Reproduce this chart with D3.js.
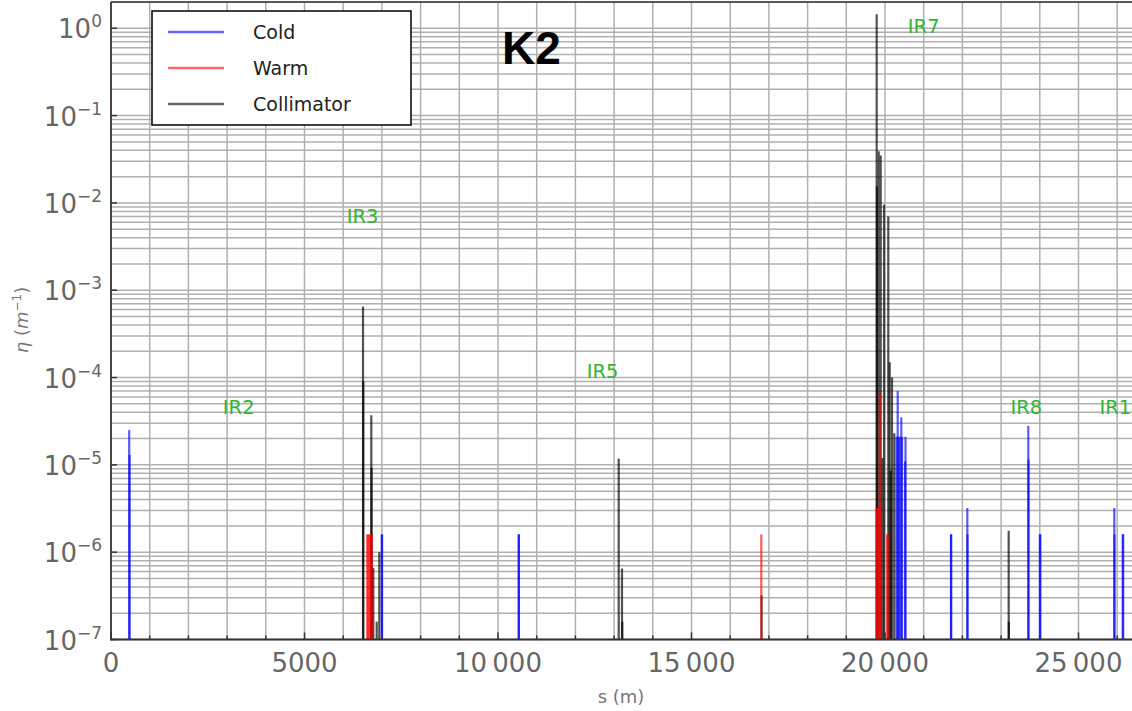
<!DOCTYPE html>
<html>
<head>
<meta charset="utf-8">
<script src="https://cdn.jsdelivr.net/npm/d3@7"></script>
<style>
  html, body { margin: 0; padding: 0; background: #fff; overflow: hidden; }
  svg { display: block; }
</style>
</head>
<body>
<svg id="chart" width="1132" height="711"></svg>
<script>
// Loss maps: longitudinal position s (m) and local inefficiency eta (1/m)
const coldLosses = [
  [470, 2.5e-5], [480, 1.3e-5],
  [6995, 1.6e-6], [7005, 1.6e-6],
  [10535, 1.6e-6], [10540, 1.6e-6],
  [20300, 2.1e-5], [20328, 7.0e-5], [20350, 2.1e-5], [20380, 2.1e-5],
  [20421, 3.5e-5], [20440, 2.1e-5], [20520, 1.1e-5], [20530, 2.1e-5],
  [21705, 1.6e-6], [21710, 1.6e-6],
  [22127, 3.2e-6], [22132, 1.6e-6],
  [23703, 2.8e-5], [23708, 1.15e-5],
  [24000, 1.6e-6], [24015, 1.6e-6],
  [25925, 3.2e-6], [25930, 1.6e-6],
  [26142, 1.6e-6], [26155, 1.6e-6]
];
const warmLosses = [
  [6620, 1.6e-6], [6650, 1.6e-6], [6680, 1.6e-6], [6710, 1.6e-6], [6740, 1.6e-6],
  [16804, 1.6e-6],
  [19780, 3.2e-6], [19800, 3.2e-6], [19820, 3.2e-6], [19865, 6.6e-5], [19880, 3.2e-6],
  [20060, 1.6e-6], [20070, 1.6e-6]
];
const collimatorLosses = [
  [6512, 6.5e-4], [6520, 9.0e-5], [6726, 3.7e-5], [6733, 9.3e-6],
  [6778, 6.6e-7], [6866, 1.6e-7], [6933, 1.0e-6],
  [13119, 1.18e-5], [13204, 6.5e-7], [13212, 1.6e-7],
  [16810, 3.2e-7],
  [19785, 1.45], [19792, 1.55e-2], [19837, 3.9e-2], [19889, 3.5e-2],
  [19935, 1.2e-5], [19975, 9.5e-3], [20085, 7.0e-3],
  [20121, 1.5e-4], [20150, 8.6e-6], [20181, 1.0e-4], [20240, 2.3e-5],
  [23196, 1.76e-6], [23200, 1.6e-7]
];

const xTicks = [0, 5000, 10000, 15000, 20000, 25000];
const xTickLabels = ["0", "5000", "10\u2009000", "15\u2009000", "20\u2009000", "25\u2009000"];
const yExponents = [0, -1, -2, -3, -4, -5, -6, -7];
const regionLabels = [
  ["IR2", 3300, 4.2e-5], ["IR3", 6500, 6.5e-3], ["IR5", 12700, 1.1e-4],
  ["IR7", 21000, 0.98], ["IR8", 23650, 4.2e-5], ["IR1", 25950, 4.2e-5]
];
const seriesNames = ["Cold", "Warm", "Collimator"];
const seriesColors = ["#0000ff", "#ff0000", "#000000"];
const ringLength = 26659;

const svg = d3.select("#chart");
const plotLeft = 111, plotBottom = 639.5, plotTop = 2;
const x = d3.scaleLinear().domain([0, ringLength]).range([plotLeft, plotLeft + ringLength * 0.0387]);
const y = d3.scaleLog().domain([1e-7, 2]).range([plotBottom, plotTop]);

const font = "'DejaVu Sans', 'Noto Sans', sans-serif";
const grid = svg.append("g").attr("stroke", "#b0b0b0").attr("stroke-width", 1.5);

// horizontal log grid (decades and minor steps)
const yGrid = [];
for (let e = -7; e <= 0; e++) {
  for (let k = 1; k <= 9; k++) {
    const v = k * Math.pow(10, e);
    if (v <= 2) yGrid.push(v);
  }
}
grid.selectAll("line.h").data(yGrid).join("line")
  .attr("x1", plotLeft).attr("x2", 1132)
  .attr("y1", d => y(d)).attr("y2", d => y(d));

// vertical grid every kilometre
const xGrid = d3.range(1000, ringLength, 1000);
grid.selectAll("line.v").data(xGrid).join("line")
  .attr("x1", d => x(d)).attr("x2", d => x(d))
  .attr("y1", plotTop).attr("y2", plotBottom);

// loss spikes from the floor of the plot
function drawSpikes(data, color, opacity) {
  svg.append("g").selectAll("line").data(data).join("line")
    .attr("x1", d => x(d[0])).attr("x2", d => x(d[0]))
    .attr("y1", plotBottom).attr("y2", d => y(d[1]))
    .attr("stroke", color).attr("stroke-opacity", opacity)
    .attr("stroke-width", 2.2);
}
drawSpikes(collimatorLosses, seriesColors[2], 0.68);
drawSpikes(warmLosses, seriesColors[1], 0.65);
drawSpikes(coldLosses, seriesColors[0], 0.65);

// frame
const axisColor = "#333";
svg.append("line").attr("x1", plotLeft).attr("x2", 1132).attr("y1", plotTop).attr("y2", plotTop)
  .attr("stroke", axisColor).attr("stroke-width", 1.5);
svg.append("line").attr("x1", plotLeft).attr("x2", plotLeft).attr("y1", plotTop).attr("y2", plotBottom + 1)
  .attr("stroke", axisColor).attr("stroke-width", 1.8);
svg.append("line").attr("x1", plotLeft).attr("x2", 1132).attr("y1", plotBottom).attr("y2", plotBottom)
  .attr("stroke", axisColor).attr("stroke-width", 2);

// x ticks (inward), major every 5 km
svg.append("g").selectAll("line").data(d3.range(0, ringLength, 1000)).join("line")
  .attr("x1", d => x(d)).attr("x2", d => x(d))
  .attr("y1", plotBottom).attr("y2", d => plotBottom - (d % 5000 === 0 ? 7 : 4))
  .attr("stroke", axisColor).attr("stroke-width", 1.5);

// y ticks (inward) at decades
svg.append("g").selectAll("line").data(yExponents).join("line")
  .attr("x1", plotLeft).attr("x2", plotLeft + 6)
  .attr("y1", d => y(Math.pow(10, d))).attr("y2", d => y(Math.pow(10, d)))
  .attr("stroke", axisColor).attr("stroke-width", 1.5);

// x tick labels
svg.append("g").selectAll("text").data(xTicks).join("text")
  .attr("x", d => x(d)).attr("y", 672)
  .attr("text-anchor", "middle")
  .attr("font-family", font).attr("font-size", 26).attr("fill", "#666")
  .text((d, i) => xTickLabels[i]);

// y tick labels as powers of ten
const yl = svg.append("g").selectAll("text").data(yExponents).join("text")
  .attr("x", 102).attr("y", d => y(Math.pow(10, d)) + 10)
  .attr("text-anchor", "end")
  .attr("font-family", font).attr("font-size", 26).attr("fill", "#666");
yl.append("tspan").text("10");
yl.append("tspan").attr("dy", -11).attr("font-size", 17)
  .text(d => d === 0 ? "0" : "\u2212" + Math.abs(d));

// axis titles
svg.append("text").attr("x", 621).attr("y", 703).attr("text-anchor", "middle")
  .attr("font-family", font).attr("font-size", 18).attr("fill", "#777")
  .text("s (m)");
const ylab = svg.append("text")
  .attr("transform", "translate(28,320) rotate(-90)")
  .attr("text-anchor", "middle")
  .attr("font-family", font).attr("font-size", 18).attr("fill", "#777");
ylab.append("tspan").attr("font-style", "italic").text("\u03b7");
ylab.append("tspan").text(" (");
ylab.append("tspan").attr("font-style", "italic").text("m");
ylab.append("tspan").attr("dy", -7).attr("font-size", 12).text("\u22121");
ylab.append("tspan").attr("dy", 7).text(")");

// interaction region labels
svg.append("g").selectAll("text").data(regionLabels).join("text")
  .attr("x", d => x(d[1])).attr("y", d => y(d[2]) + 4)
  .attr("text-anchor", "middle")
  .attr("font-family", font).attr("font-size", 19.5).attr("fill", "#33b533")
  .text(d => d[0]);

// title
svg.append("text").attr("x", 502).attr("y", 64)
  .attr("font-family", "'Liberation Sans', Arial, sans-serif")
  .attr("font-weight", "bold").attr("font-size", 46).attr("fill", "#000")
  .text("K2");

// legend
const lg = svg.append("g");
lg.append("rect").attr("x", 152).attr("y", 11).attr("width", 259).attr("height", 114)
  .attr("fill", "#fff").attr("stroke", "#000").attr("stroke-width", 1.5);
const rows = lg.selectAll("g").data(seriesNames).join("g")
  .attr("transform", (d, i) => `translate(0,${32 + i * 36})`);
rows.append("line").attr("x1", 168).attr("x2", 224).attr("y1", 0).attr("y2", 0)
  .attr("stroke", (d, i) => seriesColors[i]).attr("stroke-opacity", 0.6).attr("stroke-width", 2.5);
rows.append("text").attr("x", 253).attr("y", 7)
  .attr("font-family", font).attr("font-size", 19).attr("fill", "#222")
  .text(d => d);
</script>
</body>
</html>
